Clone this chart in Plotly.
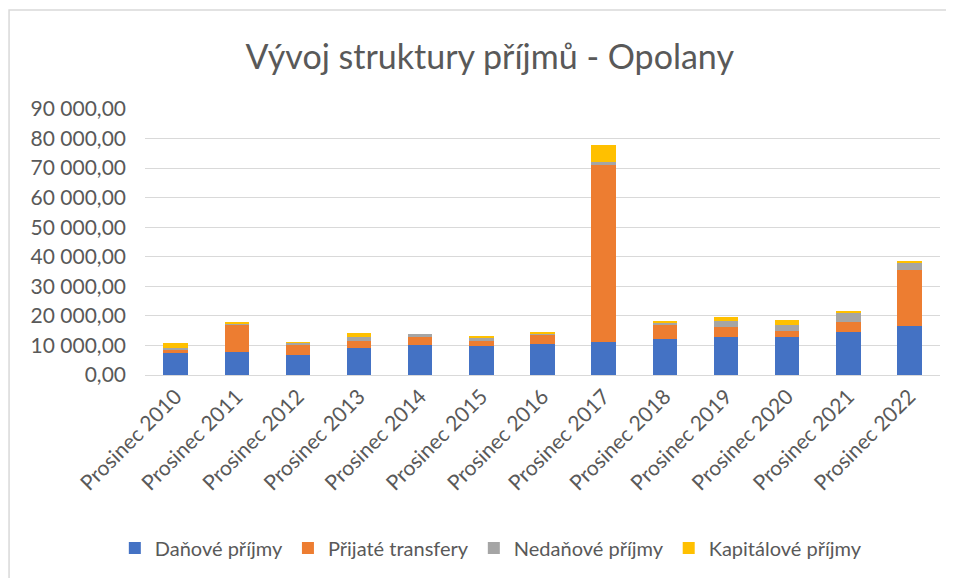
import plotly.graph_objects as go

categories = ["Prosinec 2010", "Prosinec 2011", "Prosinec 2012", "Prosinec 2013", "Prosinec 2014",
              "Prosinec 2015", "Prosinec 2016", "Prosinec 2017", "Prosinec 2018", "Prosinec 2019",
              "Prosinec 2020", "Prosinec 2021", "Prosinec 2022"]
danove = [7360, 7690, 6890, 9270, 10280, 9940, 10620, 11300, 12320, 12990, 12990, 14690, 16720]
transfery = [1100, 9260, 3390, 2370, 2710, 1700, 2830, 59890, 4520, 3280, 2040, 3390, 18650]
nedanove = [600, 570, 680, 1130, 1020, 1020, 680, 900, 900, 1920, 2030, 3050, 2710]
kapitalove = [1700, 100, 200, 1470, 0, 220, 450, 5880, 560, 1580, 1580, 680, 450]

series_names = ["Daňové příjmy", "Přijaté transfery", "Nedaňové příjmy", "Kapitálové příjmy"]
series_values = [danove, transfery, nedanove, kapitalove]
colors = ["#4472C4", "#ED7D31", "#A5A5A5", "#FFC000"]

tick_vals = list(range(0, 90001, 10000))
tick_text = ["0,00"] + [f"{v // 1000} 000,00" for v in tick_vals[1:]]

fig = go.Figure()
for name, vals, col in zip(series_names, series_values, colors):
    fig.add_trace(go.Bar(x=categories, y=vals, name=name, marker_color=col,
                         marker_line_width=0))

font_family = "Lato, sans-serif"
fig.update_layout(
    barmode="stack",
    bargap=0.6,
    width=954, height=578,
    margin=dict(l=137, r=22, t=101, b=211, autoexpand=False),
    paper_bgcolor="white",
    plot_bgcolor="white",
    font=dict(family=font_family, color="#595959", size=21),
    title=dict(text="Vývoj struktury příjmů - Opolany", x=0.505, xanchor="center",
               y=0.915, yanchor="middle", font=dict(size=34, color="#595959")),
    legend=dict(orientation="h", x=0.435, xanchor="center", y=-0.65, yanchor="middle",
                font=dict(size=20, color="#595959"), itemsizing="constant",
                traceorder="normal", itemwidth=30, tracegroupgap=0),
    xaxis=dict(tickangle=-45, showgrid=False, showline=True, linecolor="#d9d9d9",
               linewidth=1, ticks="", automargin=False,
               tickfont=dict(size=21, color="#595959")),
    yaxis=dict(range=[0, 90000], tickvals=tick_vals, ticktext=tick_text,
               showgrid=True, gridcolor="#d9d9d9", gridwidth=1, zeroline=False,
               ticks="", automargin=False, ticklabelstandoff=18,
               tickfont=dict(size=21, color="#595959")),
    shapes=[dict(type="rect", xref="paper", yref="paper",
                 x0=-0.171, x1=1.0126, y0=-0.79, y1=1.372,
                 line=dict(color="#d9d9d9", width=1.5), fillcolor="rgba(0,0,0,0)",
                 layer="below")],
)

fig.write_html("out.html")
